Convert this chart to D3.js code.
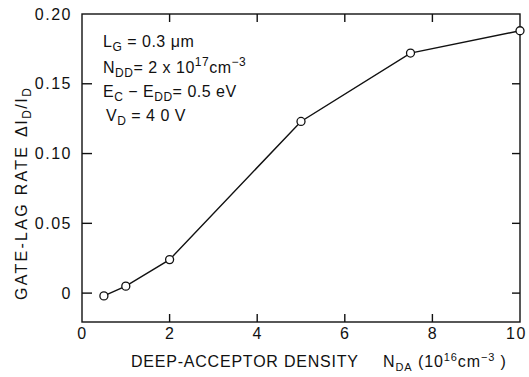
<!DOCTYPE html>
<html>
<head>
<meta charset="utf-8">
<script src="https://cdn.jsdelivr.net/npm/d3@7"></script>
<style>
  html, body { margin: 0; padding: 0; background: #fff; }
  svg text { font-family: 'Liberation Sans', Arial, sans-serif; fill: #111; }
</style>
</head>
<body>
<div id="chart"></div>
<script>
// Deep-acceptor density (1e16 cm^-3) vs gate-lag rate
const densities = [0.5, 1, 2, 5, 7.5, 10];
const lagRates = [-0.002, 0.005, 0.024, 0.123, 0.172, 0.188];
const xTicks = [0, 2, 4, 6, 8, 10];
const yTicks = [0, 0.05, 0.10, 0.15, 0.20];
const yTickLabels = ['0', '0.05', '0.10', '0.15', '0.20'];

const W = 529, H = 377;
const m = { left: 82, right: 9, top: 14, bottom: 55 };
const yMin = -0.0207, yMax = 0.2;

const svg = d3.select('#chart').append('svg')
     .attr('width', W).attr('height', H);

const x = d3.scaleLinear().domain([0, 10]).range([m.left, W - m.right]);
const y = d3.scaleLinear().domain([yMin, yMax]).range([H - m.bottom, m.top]);

const ink = '#111';
const font = "'Liberation Sans', Arial, sans-serif";
const x0 = x(0), x1 = x(10), yB = y(yMin), yT = y(yMax);

// frame
svg.append('rect')
     .attr('x', x0).attr('y', yT)
     .attr('width', x1 - x0).attr('height', yB - yT)
     .attr('fill', 'none').attr('stroke', ink).attr('stroke-width', 1.4);

// inward tick marks on all four sides
const tk = 8;
const ticks = svg.append('g').attr('stroke', ink).attr('stroke-width', 1.4);
const innerX = xTicks.filter(v => v > 0 && v < 10);
const innerY = yTicks.filter(v => v < yMax);
ticks.selectAll('.tb').data(innerX).join('line').attr('class', 'tb')
     .attr('x1', d => x(d)).attr('x2', d => x(d)).attr('y1', yB).attr('y2', yB - tk);
ticks.selectAll('.tt').data(innerX).join('line').attr('class', 'tt')
     .attr('x1', d => x(d)).attr('x2', d => x(d)).attr('y1', yT).attr('y2', yT + tk);
ticks.selectAll('.tl').data(innerY).join('line').attr('class', 'tl')
     .attr('y1', d => y(d)).attr('y2', d => y(d)).attr('x1', x0).attr('x2', x0 + tk + 2);
ticks.selectAll('.tr').data(innerY).join('line').attr('class', 'tr')
     .attr('y1', d => y(d)).attr('y2', d => y(d)).attr('x1', x1).attr('x2', x1 - tk);

// tick labels through d3 axes (tick lines hidden, frame drawn above)
const axB = svg.append('g').attr('transform', `translate(0,${yB})`)
     .call(d3.axisBottom(x).tickValues(xTicks).tickSize(0).tickPadding(6));
const axL = svg.append('g').attr('transform', `translate(${x0},0)`)
     .call(d3.axisLeft(y).tickValues(yTicks).tickSize(0).tickPadding(10)
          .tickFormat((d, i) => yTickLabels[i]));

[axB, axL].forEach(a => {
     a.select('.domain').remove();
     a.selectAll('.tick line').remove();
     a.selectAll('.tick text').attr('font-size', 16).attr('letter-spacing', '1.5px')
          .attr('fill', ink).style('font-family', font);
});
axB.selectAll('.tick text').filter(d => d === 10).attr('dx', -4);

// data line + open circles
const pts = densities.map((d, i) => [d, lagRates[i]]);
svg.append('path')
     .datum(pts)
     .attr('d', d3.line().x(d => x(d[0])).y(d => y(d[1])))
     .attr('fill', 'none').attr('stroke', ink).attr('stroke-width', 1.4);

svg.append('g').selectAll('circle')
     .data(pts)
     .join('circle')
     .attr('cx', d => x(d[0])).attr('cy', d => y(d[1]))
     .attr('r', 4)
     .attr('fill', '#fff').attr('stroke', ink).attr('stroke-width', 1.3);

// parameter block
const notes = svg.append('g').attr('font-size', 16);
function note(xx, yy, parts) {
     const t = notes.append('text').attr('x', xx).attr('y', yy).attr('letter-spacing', '0.5px');
     parts.forEach(p => {
          const s = t.append('tspan').text(p[0]);
          if (p[1] === 'sub') s.attr('font-size', 12).attr('dy', 4);
          if (p[1] === 'sup') s.attr('font-size', 12).attr('dy', -7);
          if (p[2]) s.attr('dy', p[2]);
     });
}
note(103, 47, [['L'], ['G', 'sub'], [' = 0.3 μm', null, -4]]);
note(103, 73, [['N'], ['DD', 'sub'], ['= 2 x 10', null, -4], ['17', 'sup'], ['cm', null, 7], ['−3', 'sup']]);
note(103, 97, [['E'], ['C', 'sub'], [' − E', null, -4], ['DD', 'sub'], ['= 0.5 eV', null, -4]]);
note(106, 121, [['V'], ['D', 'sub'], [' = 4 0 V', null, -4]]);

// x-axis title
svg.append('text').attr('x', 131).attr('y', 367).attr('font-size', 16)
     .attr('textLength', 227).attr('lengthAdjust', 'spacing')
     .text('DEEP-ACCEPTOR DENSITY');
const xt = svg.append('text').attr('x', 383).attr('y', 367).attr('font-size', 16)
     .attr('letter-spacing', '0.9px');
xt.append('tspan').text('N');
xt.append('tspan').text('DA').attr('font-size', 11).attr('dy', 4);
xt.append('tspan').text(' (10').attr('dy', -4);
xt.append('tspan').text('16').attr('font-size', 11).attr('dy', -6);
xt.append('tspan').text('cm').attr('dy', 6);
xt.append('tspan').text('−3').attr('font-size', 11).attr('dy', -6);
xt.append('tspan').text(' )').attr('dy', 6);

// y-axis title (reads bottom to top)
const yg = svg.append('g').attr('transform', 'translate(27,300) rotate(-90)');
yg.append('text').attr('x', 0).attr('y', 0).attr('font-size', 16)
     .attr('textLength', 153).attr('lengthAdjust', 'spacing')
     .text('GATE-LAG RATE');
const yt = yg.append('text').attr('x', 163).attr('y', 0).attr('font-size', 16)
     .attr('letter-spacing', '1.5px');
yt.append('tspan').text('ΔI');
yt.append('tspan').text('D').attr('font-size', 12).attr('dy', 4);
yt.append('tspan').text('/I').attr('dy', -4);
yt.append('tspan').text('D').attr('font-size', 12).attr('dy', 4);
</script>
</body>
</html>
